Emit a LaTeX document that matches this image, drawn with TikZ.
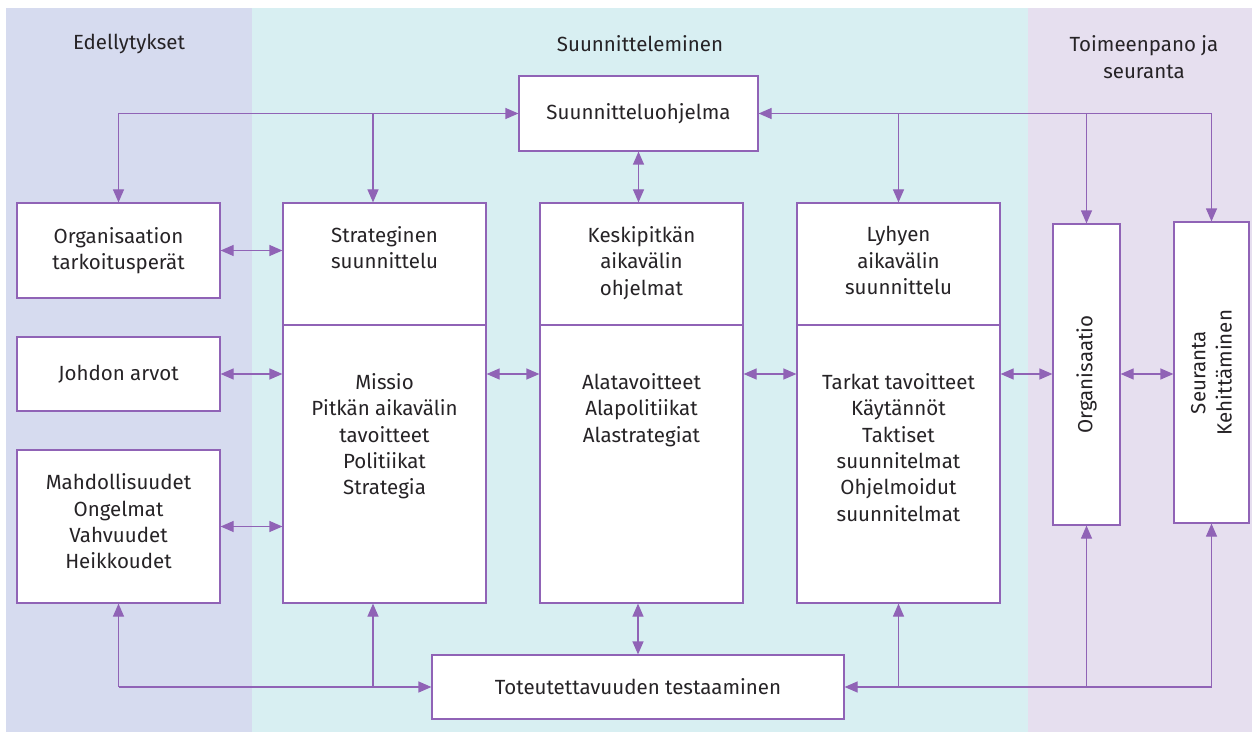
\documentclass[tikz,border=0pt]{standalone}
\usepackage{fontspec}
\setmainfont{Fira Sans}[Ligatures=NoCommon]
\usetikzlibrary{arrows.meta,positioning}
\definecolor{lila}{HTML}{9063B6}
\definecolor{bandL}{HTML}{D6DBEF}
\definecolor{bandM}{HTML}{D8EFF2}
\definecolor{bandR}{HTML}{E6DFEF}
\definecolor{ink}{HTML}{262326}
\tikzset{
  box/.style={draw=lila, line width=1.2pt, fill=white, inner sep=0pt},
  txt/.style={align=center, text=ink, inner sep=0pt, font=\fontsize{20.5}{26.3}\selectfont},
  arr/.style={draw=lila, line width=1.2pt, -{Triangle[length=13pt,width=11pt]}},
  darr/.style={draw=lila, line width=1.2pt, {Triangle[length=13pt,width=11pt]}-{Triangle[length=13pt,width=11pt]}}
}
\begin{document}
\begin{tikzpicture}[x=1pt,y=-1pt]
    \useasboundingbox (0,0) rectangle (1259,733);
    % Bands %
    \fill[bandL] (6,8) rectangle (252,732);
    \fill[bandM] (252,8) rectangle (1028,732);
    \fill[bandR] (1028,8) rectangle (1252,732);
    \node[txt] (hleft) at (129,44) {Edellytykset};
    \node[txt] (hmid) at (640,44) {Suunnitteleminen};
    \node[txt] (hright) at (1144,57) {Toimeenpano ja\\seuranta};

    % Boxes %
    \node[box, minimum width=239pt, minimum height=75pt] (plan) at (638.5,113.5) {};
    \node[txt] at (plan) {Suunnitteluohjelma};
    \node[box, minimum width=203pt, minimum height=95pt] (org) at (118.5,250.5) {};
    \node[txt] at (org) {Organisaation\\tarkoitusperät};
    \node[box, minimum width=203pt, minimum height=74pt] (johdon) at (118.5,374) {};
    \node[txt] at (johdon) {Johdon arvot};
    \node[box, minimum width=203pt, minimum height=153pt] (mahd) at (118.5,526.5) {};
    \node[txt] at ([yshift=5pt]mahd.center) {Mahdollisuudet\\Ongelmat\\Vahvuudet\\Heikkoudet};

    \foreach \name/\x in {strat/384.5, kesk/641.5, lyh/898.5} {
        \node[box, minimum width=203pt, minimum height=122pt] (\name top) at (\x,264) {};
        \node[box, minimum width=203pt, minimum height=278pt] (\name bot) at (\x,464) {};
    }
    \node[txt, anchor=north, below=24pt of strattop.north] {Strateginen\\suunnittelu};
    \node[txt, anchor=north, below=24pt of kesktop.north] {Keskipitkän\\aikavälin\\ohjelmat};
    \node[txt, anchor=north, below=24pt of lyhtop.north] {Lyhyen\\aikavälin\\suunnittelu};
    \node[txt, anchor=north, below=49pt of stratbot.north] {Missio\\Pitkän aikavälin\\tavoitteet\\Politiikat\\Strategia};
    \node[txt, anchor=north, below=49pt of keskbot.north] {Alatavoitteet\\Alapolitiikat\\Alastrategiat};
    \node[txt, anchor=north, below=49pt of lyhbot.north] {Tarkat tavoitteet\\Käytännöt\\Taktiset\\suunnitelmat\\Ohjelmoidut\\suunnitelmat};

    \node[box, minimum width=67pt, minimum height=301pt] (orgn) at (1086.5,374.5) {};
    \node[txt, rotate=90] at (orgn) {Organisaatio};
    \node[box, minimum width=75pt, minimum height=301pt] (seur) at (1211.5,372.5) {};
    \node[txt, rotate=90] at (seur) {Seuranta\\Kehittäminen};

    \node[box, minimum width=412pt, minimum height=64pt] (test) at (638,687) {};
    \node[txt] at (test) {Toteutettavuuden testaaminen};

    % Top connectors %
    \coordinate (tl) at (org.north |- plan.west);
    \coordinate (tr) at (seur.north |- plan.east);
    \coordinate (sx) at ([xshift=-11.5pt]strattop.north);
    \draw[arr] (tl) -- (plan.west);
    \draw[arr] (tr) -- (plan.east);
    \draw[arr] (tl) -- (org.north);
    \draw[arr] (tr) -- (seur.north);
    \draw[arr] (sx |- tl) -- (sx);
    \draw[arr] (lyhtop.north |- tr) -- (lyhtop.north);
    \draw[arr] (orgn.north |- tr) -- (orgn.north);
    \draw[darr] (plan.south) -- (plan.south |- kesktop.north);

    % Bottom connectors %
    \coordinate (bl) at (mahd.south |- test.west);
    \coordinate (br) at (seur.south |- test.east);
    \draw[arr] (bl) -- (test.west);
    \draw[arr] (br) -- (test.east);
    \draw[arr] (bl) -- (mahd.south);
    \draw[arr] (br) -- (seur.south);
    \draw[arr] (sx |- bl) -- (sx |- stratbot.south);
    \draw[arr] (lyhbot.south |- br) -- (lyhbot.south);
    \draw[arr] (orgn.south |- br) -- (orgn.south);
    \draw[darr] (test.north) -- (test.north |- keskbot.south);

    % Side connectors %
    \draw[darr] (org.east) -- (org.east -| strattop.west);
    \draw[darr] (johdon.east) -- (johdon.east -| stratbot.west);
    \draw[darr] (mahd.east) -- (mahd.east -| stratbot.west);
    \draw[darr] (stratbot.east |- johdon.east) -- (keskbot.west |- johdon.east);
    \draw[darr] (keskbot.east |- johdon.east) -- (lyhbot.west |- johdon.east);
    \draw[darr] (lyhbot.east |- johdon.east) -- (orgn.west |- johdon.east);
    \draw[darr] (orgn.east |- johdon.east) -- (seur.west |- johdon.east);
\end{tikzpicture}
\end{document}
